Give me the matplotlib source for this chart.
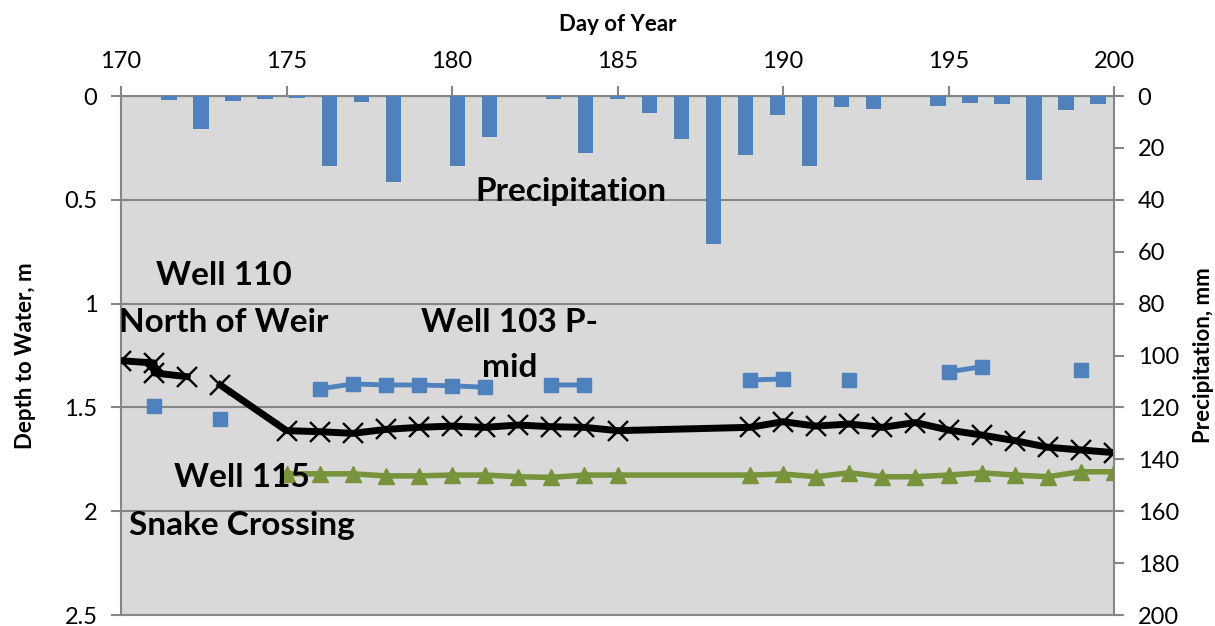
import numpy as np
import matplotlib
matplotlib.use("Agg")
import matplotlib.pyplot as plt

# ---- data ----
precip_days = list(range(170, 201))
precip_mm = [0, 1.5, 12.8, 2.0, 1.3, 0.8, 27.0, 2.4, 33.0, 0, 27.0, 15.7, 0, 1.3, 21.8, 1.3,
             6.7, 16.7, 56.9, 22.6, 7.2, 27.0, 4.1, 5.1, 0, 3.7, 2.7, 3.0, 32.2, 5.5, 3.0]

nan = np.nan
well110_days = [170, 171, 171, 172, nan, 173, 175, 176, 177, 178, 179, 180, 181, 182, 183, 184,
                185, 189, 190, 191, 192, 193, 194, 195, 196, 197, 198, 199, 200]
well110_depth = [1.275, 1.286, 1.334, 1.352, nan, 1.392, 1.612, 1.617, 1.625, 1.606, 1.596, 1.590,
                 1.596, 1.585, 1.593, 1.596, 1.612, 1.596, 1.569, 1.590, 1.580, 1.596, 1.573,
                 1.609, 1.633, 1.660, 1.692, 1.705, 1.718]

well103_days = list(range(170, 201))
well103_depth = [nan, 1.492, nan, 1.556, nan, nan, 1.411, 1.387, 1.392, 1.392, 1.396, 1.403, nan,
                 1.392, 1.392, nan, nan, nan, nan, 1.368, 1.363, nan, 1.368, nan, nan, 1.329,
                 1.304, nan, nan, 1.320, nan]

well115_days = [175, 176, 177, 178, 179, 180, 181, 182, 183, 184, 185,
                189, 190, 191, 192, 193, 194, 195, 196, 197, 198, 199, 200]
well115_depth = [1.820, 1.820, 1.820, 1.830, 1.830, 1.826, 1.826, 1.834, 1.837, 1.826, 1.826,
                 1.826, 1.821, 1.834, 1.815, 1.834, 1.834, 1.826, 1.815, 1.826, 1.834, 1.810, 1.810]

depth_ticks = [0, 0.5, 1, 1.5, 2, 2.5]
depth_labels = ["0", "0.5", "1", "1.5", "2", "2.5"]

plt.rcParams["font.family"] = ["Lato", "DejaVu Sans"]
BG = "#D9D9D9"
AX = "#868686"
BLUE = "#4F81BD"
GREEN = "#77933C"

fig = plt.figure(figsize=(12.15, 6.26), dpi=100)
rect = [121 / 1215, 1 - 615 / 626, (1114 - 121) / 1215, (615 - 96) / 626]

# well depths (primary axes, underneath)
ax = fig.add_axes(rect)
ax.set_facecolor(BG)
ax.set_xlim(170, 200)
ax.set_ylim(2.5, 0)
ax.set_yticks(depth_ticks)
ax.set_yticklabels(depth_labels)
ax.set_xticks(range(170, 201, 5))
ax.xaxis.tick_top()
ax.xaxis.set_label_position("top")
ax.tick_params(axis="x", direction="out", length=7, width=1.5, color=AX, labelsize=17, pad=10)
ax.tick_params(axis="y", direction="out", length=7, width=1.5, color=AX, labelsize=17, pad=10)
ax.grid(axis="y", color=AX, lw=1.5)
ax.set_axisbelow(True)
for side in ["left", "top", "bottom"]:
    ax.spines[side].set_color(AX)
    ax.spines[side].set_linewidth(1.5)
ax.spines["right"].set_visible(False)
ax.set_xlabel("Day of Year", fontsize=16, fontweight="bold", labelpad=15)
ax.set_ylabel("Depth to Water, m", fontsize=16, fontweight="bold", labelpad=20)

ax.plot(well110_days, well110_depth, color="black", lw=5, marker="x", ms=14, mew=1.7,
        zorder=3)
ax.plot(well103_days, well103_depth, color=BLUE, lw=3.5, marker="s", ms=10, zorder=3)
ax.plot(well115_days, well115_depth, color=GREEN, lw=4, marker="^", ms=12, zorder=3)

txt = dict(fontsize=24, fontweight="bold", ha="center", va="center", color="black", zorder=5)
ax.text(183.6, 0.458, "Precipitation", **txt)
ax.text(173.1, 0.867, "Well 110", **txt)
ax.text(173.1, 1.089, "North of Weir", **txt)
ax.text(181.75, 1.089, "Well 103 P-", **txt)
ax.text(181.75, 1.31, "mid", **txt)
ax.text(173.65, 1.84, "Well 115", **txt)
ax.text(173.65, 2.07, "Snake Crossing", **txt)

# precipitation bars (category axis on top, 31 categories)
axp = fig.add_axes(rect, label="precip")
axp.patch.set_visible(False)
cat = np.arange(len(precip_days))
axp.bar(cat, precip_mm, width=0.48, bottom=0, color=BLUE, lw=0)
axp.set_xlim(-0.5, len(precip_days) - 0.5)
axp.set_ylim(200, 0)
axp.set_xticks([])
axp.yaxis.tick_right()
axp.yaxis.set_label_position("right")
axp.set_yticks(range(0, 201, 20))
axp.tick_params(axis="y", direction="out", length=7, width=1.5, color=AX, labelsize=17, pad=10)
for side in ["left", "top", "bottom"]:
    axp.spines[side].set_visible(False)
axp.spines["right"].set_color(AX)
axp.spines["right"].set_linewidth(1.5)
axp.set_ylabel("Precipitation, mm", fontsize=16, fontweight="bold", labelpad=10)

fig.savefig("out.png", dpi=100)
